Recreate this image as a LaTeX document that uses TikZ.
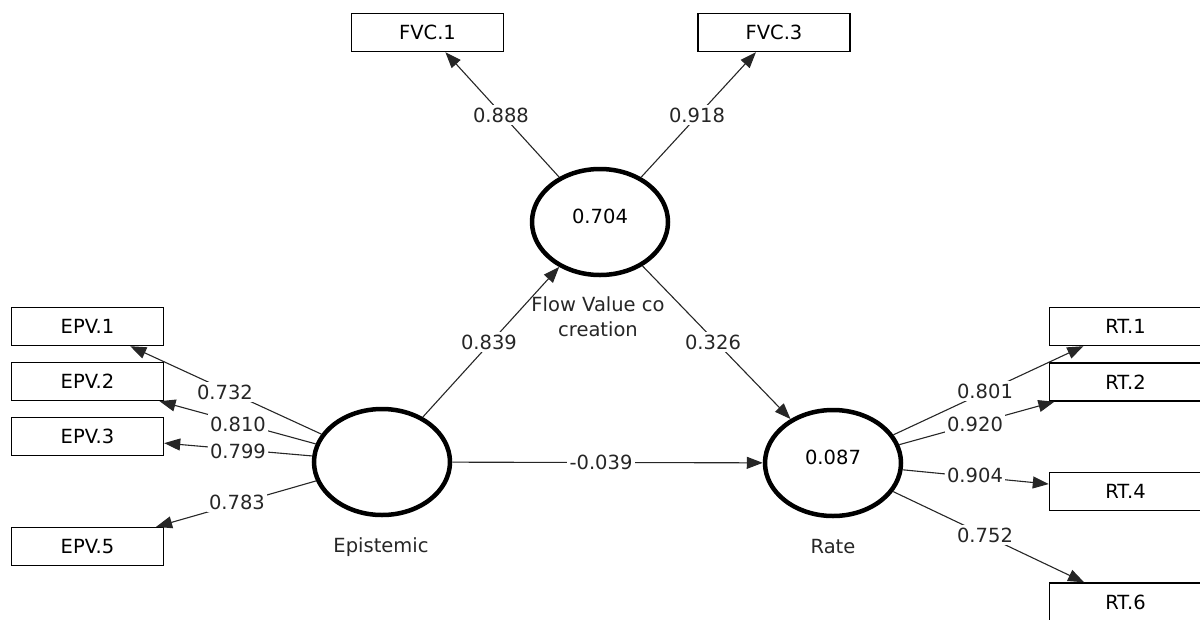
\documentclass[tikz,border=0pt]{standalone}
\usepackage{fontspec}
\setmainfont{DejaVu Sans}
\usetikzlibrary{shapes.geometric,arrows.meta}
\begin{document}
\begin{tikzpicture}[x=1pt,y=-1pt,
  font=\fontsize{19.5}{25}\selectfont,
  lv/.style={ellipse,draw,line width=4.5pt,minimum width=136pt,minimum height=106pt,inner sep=0pt},
  mv/.style={rectangle,draw,line width=1.4pt,minimum width=152pt,minimum height=38pt,inner sep=0pt},
  conn/.style={line width=1.1pt,draw=black!85,-{Triangle[length=16pt,width=12pt]}},
  lbl/.style={fill=white,inner sep=2.5pt,text=black!85},
  captext/.style={text=black!85,align=center,inner sep=0pt}
]
\useasboundingbox (0,0) rectangle (1200,619);

% latent variables
\node[lv] (ep) at (382,462) {};
\node[lv] (fvc) at (600,222) {};
\node[lv] (rt) at (833,463) {};
\node at (600,216) {0.704};
\node at (833,457) {0.087};

% indicators
\node[mv] (fvc1) at (427.5,32.5) {FVC.1};
\node[mv] (fvc3) at (774,32.5) {FVC.3};
\node[mv] (epv1) at (87.5,326.5) {EPV.1};
\node[mv] (epv2) at (87.5,381.5) {EPV.2};
\node[mv] (epv3) at (87.5,436.5) {EPV.3};
\node[mv] (epv5) at (87.5,546.5) {EPV.5};
\node[mv] (rt1) at (1125.5,326.5) {RT.1};
\node[mv] (rt2) at (1125.5,382) {RT.2};
\node[mv] (rt4) at (1125.5,491.5) {RT.4};
\node[mv] (rt6) at (1125.5,602) {RT.6};

% connectors
\draw[conn] (fvc) -- (fvc1);
\draw[conn] (fvc) -- (fvc3);
\draw[conn] (ep) -- (epv1);
\draw[conn] (ep) -- (epv2);
\draw[conn] (ep) -- (epv3);
\draw[conn] (ep) -- (epv5);
\draw[conn] (rt) -- (rt1);
\draw[conn] (rt) -- (rt2);
\draw[conn] (rt) -- (rt4);
\draw[conn] (rt) -- (rt6);
\draw[conn] (ep) -- (fvc);
\draw[conn] (fvc) -- (rt);
\draw[conn] (ep) -- (rt);

% path labels
\node[lbl] (l888) at (501,115) {0.888};
\node[lbl] (l918) at (697,115) {0.918};
\node[lbl] (l839) at (489,342) {0.839};
\node[lbl] (l326) at (713,342) {0.326};
\node[lbl] (l039) at (601,462) {-0.039};
\node[lbl] (l732) at (225,392) {0.732};
\node[lbl] (l810) at (238,424) {0.810};
\node[lbl] (l799) at (238,451) {0.799};
\node[lbl] (l783) at (237,502) {0.783};
\node[lbl] (l801) at (985,391) {0.801};
\node[lbl] (l920) at (975,424) {0.920};
\node[lbl] (l904) at (975,475) {0.904};
\node[lbl] (l752) at (985,535) {0.752};

% captions
\node[captext] (cfvc) at (598,317) {Flow Value co\\creation};
\node[captext] (cep) at (381,547) {Epistemic};
\node[captext] (crt) at (833,547) {Rate};
\end{tikzpicture}
\end{document}
